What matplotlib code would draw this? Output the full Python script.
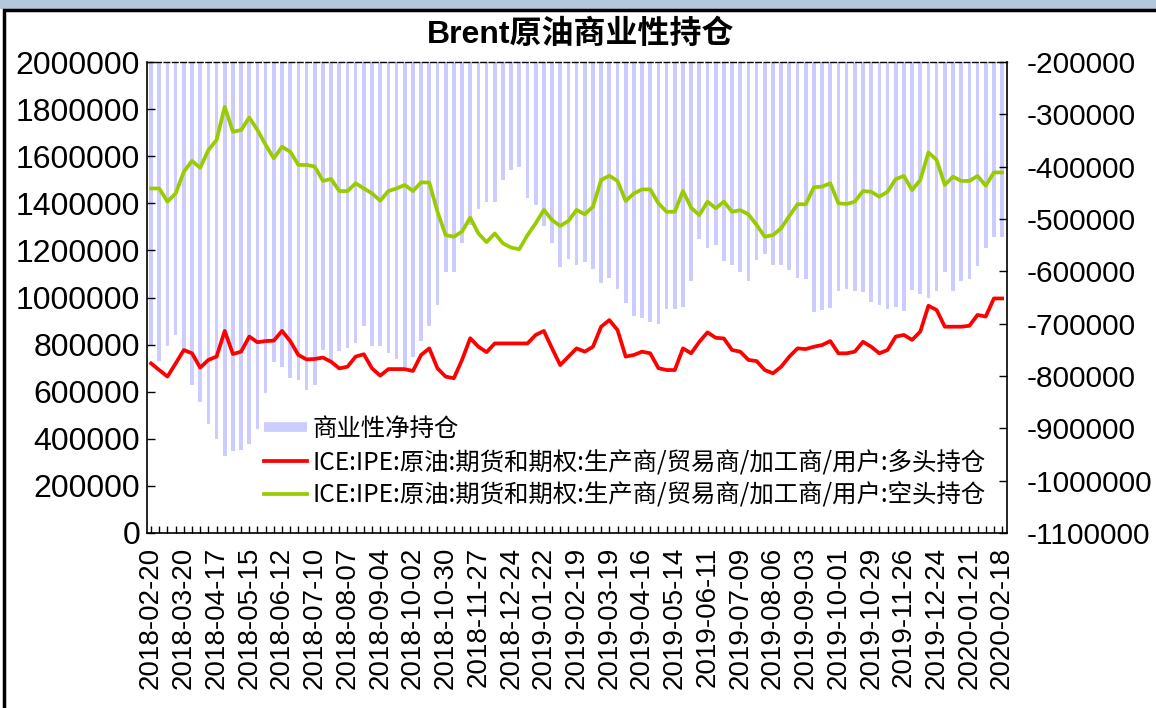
import numpy as np
import matplotlib
matplotlib.use("Agg")
from matplotlib import pyplot as plt
from matplotlib.lines import Line2D
from matplotlib.patches import Rectangle
from matplotlib.ticker import FuncFormatter

plt.rcParams['font.family'] = ['Liberation Sans', 'Noto Sans CJK SC']

# weekly data, 2018-02-20 .. 2020-02-18
tick_labels = ["2018-02-20", "2018-03-20", "2018-04-17", "2018-05-15", "2018-06-12",
               "2018-07-10", "2018-08-07", "2018-09-04", "2018-10-02", "2018-10-30",
               "2018-11-27", "2018-12-24", "2019-01-22", "2019-02-19", "2019-03-19",
               "2019-04-16", "2019-05-14", "2019-06-11", "2019-07-09", "2019-08-06",
               "2019-09-03", "2019-10-01", "2019-10-29", "2019-11-26", "2019-12-24",
               "2020-01-21", "2020-02-18"]

long_pos = [720000, 692000, 664000, 720000, 777000, 763000, 702000, 735000, 749000, 858000,
            760000, 770000, 834000, 810000, 815000, 817000, 858000, 815000, 756000, 737000,
            739000, 745000, 727000, 699000, 706000, 749000, 759000, 699000, 668000, 696000,
            696000, 696000, 688000, 756000, 784000, 699000, 664000, 657000, 735000, 827000,
            791000, 768000, 805000, 805000, 805000, 805000, 805000, 841000, 858000, 784000,
            713000, 749000, 784000, 770000, 791000, 876000, 904000, 862000, 749000, 756000,
            770000, 763000, 700000, 692000, 692000, 784000, 763000, 812000, 852000, 829000,
            826000, 777000, 770000, 735000, 730000, 692000, 678000, 706000, 749000, 784000,
            781000, 791000, 798000, 815000, 763000, 763000, 770000, 812000, 791000, 763000,
            777000, 834000, 841000, 820000, 855000, 965000, 947000, 876000, 876000, 876000,
            880000, 926000, 919000, 996000, 996000]

short_pos = [1463000, 1463000, 1407000, 1442000, 1534000, 1580000, 1551000, 1626000, 1669000, 1810000,
             1704000, 1711000, 1764000, 1711000, 1648000, 1591000, 1640000, 1619000, 1563000, 1563000,
             1556000, 1495000, 1503000, 1452000, 1452000, 1485000, 1463000, 1442000, 1411000, 1452000,
             1463000, 1478000, 1452000, 1489000, 1488000, 1364000, 1265000, 1258000, 1280000, 1339000,
             1272000, 1235000, 1272000, 1230000, 1212000, 1205000, 1265000, 1315000, 1372000, 1329000,
             1304000, 1325000, 1372000, 1353000, 1386000, 1499000, 1517000, 1495000, 1410000, 1442000,
             1459000, 1459000, 1400000, 1364000, 1364000, 1452000, 1381000, 1350000, 1407000, 1379000,
             1407000, 1364000, 1371000, 1353000, 1308000, 1258000, 1265000, 1294000, 1346000, 1396000,
             1396000, 1468000, 1471000, 1485000, 1400000, 1397000, 1407000, 1452000, 1449000, 1428000,
             1449000, 1503000, 1516000, 1456000, 1499000, 1616000, 1584000, 1478000, 1513000, 1495000,
             1495000, 1516000, 1475000, 1531000, 1531000]

net_pos = [-743000, -771000, -743000, -722000, -757000, -817000, -849000, -891000, -920000, -952000,
           -944000, -941000, -930000, -901000, -833000, -774000, -782000, -804000, -807000, -826000,
           -817000, -750000, -776000, -753000, -746000, -736000, -704000, -743000, -743000, -756000,
           -767000, -782000, -764000, -733000, -704000, -665000, -601000, -601000, -545000, -512000,
           -481000, -467000, -467000, -425000, -407000, -400000, -460000, -474000, -514000, -545000,
           -591000, -576000, -588000, -583000, -595000, -623000, -613000, -633000, -661000, -686000,
           -689000, -696000, -700000, -672000, -672000, -668000, -618000, -538000, -555000, -550000,
           -581000, -587000, -601000, -618000, -578000, -566000, -587000, -588000, -597000, -612000,
           -615000, -677000, -673000, -670000, -637000, -634000, -637000, -640000, -658000, -665000,
           -672000, -669000, -675000, -636000, -644000, -651000, -637000, -602000, -637000, -619000,
           -615000, -590000, -556000, -535000, -535000]

names = ["商业性净持仓",
         "ICE:IPE:原油:期货和期权:生产商/贸易商/加工商/用户:多头持仓",
         "ICE:IPE:原油:期货和期权:生产商/贸易商/加工商/用户:空头持仓"]

bar_color = "#CCCCFF"
red = "#FF0000"
green = "#99CC00"

W, H = 1156, 708
fig = plt.figure(figsize=(W / 100, H / 100), dpi=100)

# frame of the screenshot
fig.patches.append(Rectangle((0, 1 - 9 / H), 1, 9 / H, transform=fig.transFigure,
                             facecolor="#b4c8dc", edgecolor="none", zorder=0))
fig.patches.append(Rectangle((4 / W, -0.01), 1.0, 1 - 10 / H + 0.01, transform=fig.transFigure,
                             facecolor="none", edgecolor="black", linewidth=2.5, zorder=1))

ax1 = fig.add_axes([147 / W, 1 - 533 / H, 860 / W, 471 / H])
ax2 = ax1.twinx()
ax1.set_zorder(ax2.get_zorder() + 1)
ax1.patch.set_visible(False)

x = np.arange(len(net_pos))
base = -200000
ax2.bar(x, np.array(net_pos) - base, bottom=base, width=0.45, color=bar_color, linewidth=0)
ax1.plot(x, long_pos, color=red, lw=2.7)
ax1.plot(x, short_pos, color=green, lw=2.7)

ax1.set_xlim(-0.5, len(x) - 0.4)
ax1.set_ylim(0, 2000000)
ax2.set_ylim(-1100000, -200000)
ax1.set_yticks(np.arange(0, 2000001, 200000))
ax2.set_yticks(np.arange(-1100000, -199999, 100000))
fmt = FuncFormatter(lambda v, p: "%d" % int(round(v)))
ax1.yaxis.set_major_formatter(fmt)
ax2.yaxis.set_major_formatter(fmt)

ax1.set_xticks(x)
ax1.set_xticklabels([tick_labels[i // 4] if i % 4 == 0 else "" for i in x],
                    rotation=90, fontsize=20)
ax1.tick_params(axis="x", direction="in", length=5, width=1, pad=10)
ax1.tick_params(axis="y", direction="in", length=6, width=1, pad=5, labelsize=23)
ax2.tick_params(axis="y", direction="in", length=6, width=1, pad=14, labelsize=21.5)

for s in ax2.spines.values():
    s.set_visible(False)
for s in ax1.spines.values():
    s.set_linewidth(1.2)
ax1.spines["top"].set_linestyle((0, (4, 2)))
ax1.spines["top"].set_linewidth(1.0)

fig.text(581 / W, 1 - 35 / H, "Brent原油商业性持仓", ha="center", va="center",
         fontsize=23, fontweight="bold")

handles = [Line2D([], [], color=bar_color, lw=7, solid_capstyle="butt"),
           Line2D([], [], color=red, lw=2.7),
           Line2D([], [], color=green, lw=2.7)]
ax1.legend(handles, names, loc="upper left", bbox_to_anchor=((264 - 147) / 860, (533 - 416) / 471),
           frameon=False, borderpad=0, borderaxespad=0, handlelength=1.75, handletextpad=0.25,
           labelspacing=0.3, prop={"family": ["Noto Sans CJK SC"], "size": 17.6})

fig.savefig("out.png", dpi=100)
